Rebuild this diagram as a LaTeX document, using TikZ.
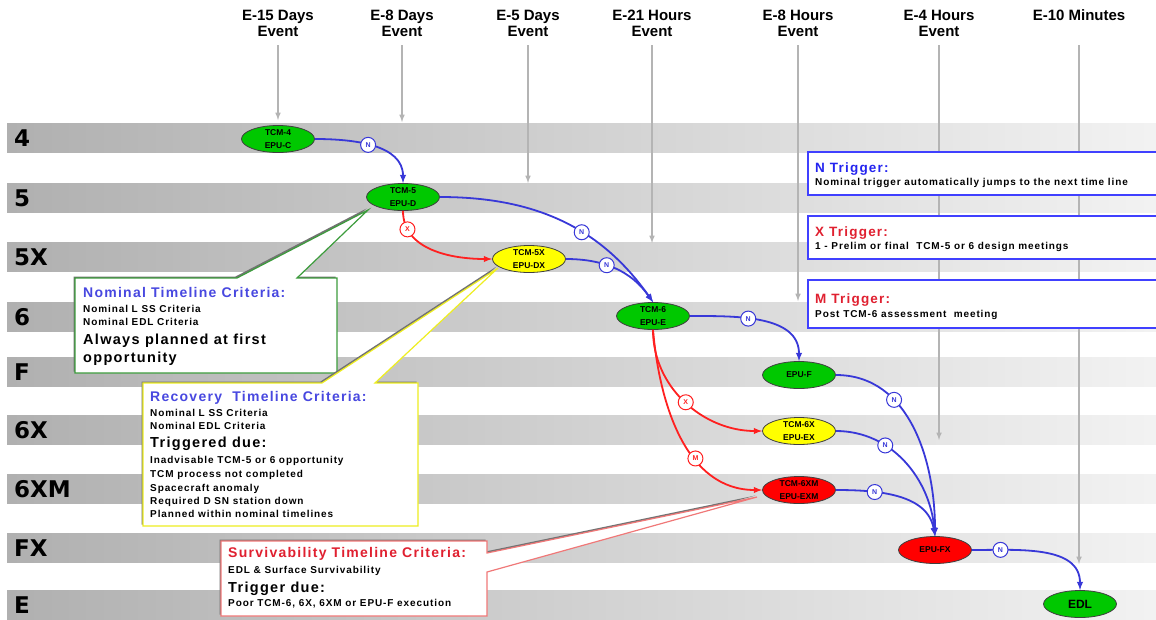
\documentclass[tikz,border=0pt]{standalone}
\usepackage{fontspec}
\setmainfont{Liberation Sans}
\newfontfamily\bandfont{DejaVu Sans}
\newfontfamily\spacedfont{Liberation Sans}[LetterSpace=9]
\usetikzlibrary{shapes.geometric,arrows}

\definecolor{tlgreen}{HTML}{00C800}
\definecolor{tlyellow}{HTML}{FFFF00}
\definecolor{tlred}{HTML}{FF0000}
\definecolor{nblue}{HTML}{3838D8}
\definecolor{xred}{HTML}{FF2020}
\definecolor{hdblue}{HTML}{4848E0}
\definecolor{lgblue}{HTML}{2424F0}
\definecolor{hdred}{HTML}{E02030}
\definecolor{evgray}{HTML}{B4B4B4}
\definecolor{boxgreen}{HTML}{3C9C3C}
\definecolor{boxyellow}{HTML}{EEEE20}
\definecolor{boxpink}{HTML}{F07878}

\newcommand{\spaced}[1]{\fontsize{#1}{#1}\spacedfont\bfseries}

\begin{document}
\begin{tikzpicture}[x=1pt,y=-1pt,
    band/.style={left color=black!31,right color=black!5},
    bandlab/.style={anchor=west,inner sep=0,font=\fontsize{23}{23}\bandfont\bfseries},
    event/.style={align=center,anchor=north,inner sep=0,font=\fontsize{15}{16}\selectfont\bfseries},
    evline/.style={evgray,line width=1.5pt,-latex},
    tl/.style={ellipse,draw=black!75,line width=.8pt,minimum width=73pt,minimum height=27pt,inner sep=0,align=center,font=\fontsize{8.5}{13}\selectfont\bfseries},
    trig/.style={circle,draw=#1,fill=white,line width=1pt,minimum size=15pt,inner sep=0,text=#1,font=\fontsize{7}{7}\selectfont\bfseries},
    nline/.style={nblue,line width=1.8pt,-latex},
    xline/.style={xred,line width=1.8pt,-latex},
    legbox/.style={draw=blue!75,line width=1.5pt,fill=white},
    legtitle/.style={anchor=base west,inner sep=0,font=\spaced{13.5}},
    ctitle/.style={anchor=base west,inner sep=0,font=\spaced{14}},
    csmall/.style={anchor=base west,inner sep=0,font=\spaced{10}},
    cbig/.style={anchor=base west,inner sep=0,font=\spaced{14.5}}]
  \useasboundingbox (0,0) rectangle (1156,619);
  \fill[white] (0,0) rectangle (1156,619);
  % time lines
  \foreach \yy/\lab [count=\i] in {123/4,183/5,242/5X,302/6,357/F,415/6X,474/6XM,533/FX,590/E}{%
    \shade[band] (7,\yy) rectangle (1156,\yy+29.5);
    \node[bandlab] (lab\i) at (14,\yy+15) {\lab};}
  % events on top
  \coordinate (evtop) at (0,45);
  \foreach \x/\yend/\txt [count=\i] in {278/120/{E-15 Days\\Event},402/122/{E-8 Days\\Event},
      528/183/{E-5 Days\\Event},652/243/{E-21 Hours\\Event},798/301/{E-8 Hours\\Event},
      939/440/{E-4 Hours\\Event},1079/564/{E-10 Minutes}}{%
    \node[event] (ev\i) at (\x,9.5) {\txt};
    \coordinate (evend\i) at (\x,\yend);
    \draw[evline] (ev\i.south |- evtop) -- (evend\i);}
  % trigger legend
  \draw[legbox] (808,152) rectangle (1170,195);
  \draw[legbox] (808,216) rectangle (1170,259);
  \draw[legbox] (808,280) rectangle (1170,328);
  \node[legtitle,text=lgblue] (ntrig) at (815,172) {N Trigger:};
  \node[csmall] (ntxt) at (815,185) {Nominal trigger automatically jumps to the next time line};
  \node[legtitle,text=hdred] (xtrig) at (815,236) {X Trigger:};
  \node[csmall] (xtxt) at (815,249) {1 - Prelim or final\ \ TCM-5 or 6 design meetings};
  \node[legtitle,text=hdred] (mtrig) at (815,303) {M Trigger:};
  \node[csmall] (mtxt) at (815,317) {Post TCM-6 assessment\ \ meeting};
  % callouts
  \fill[black!55,shift={(-1.5,-1.5)}] (75,278) -- (237,278) -- (368,210) -- (297,278) -- (337,278) -- (337,373) -- (75,373) -- cycle;
  \filldraw[fill=white,draw=boxgreen,line width=1.2pt] (75,278) -- (237,278) -- (368,210) -- (297,278) -- (337,278) -- (337,373) -- (75,373) -- cycle;
  \fill[black!55,shift={(-1.5,-1.5)}] (143,383) -- (322,383) -- (498,268) -- (375,383) -- (418,383) -- (418,526) -- (143,526) -- cycle;
  \filldraw[fill=white,draw=boxyellow,line width=1.2pt] (143,383) -- (322,383) -- (498,268) -- (375,383) -- (418,383) -- (418,526) -- (143,526) -- cycle;
  \fill[black!55,shift={(-1.5,-1.5)}] (221,541) -- (487,541) -- (487,553) -- (757,497) -- (487,572) -- (487,616) -- (221,616) -- cycle;
  \filldraw[fill=white,draw=boxpink,line width=1.2pt] (221,541) -- (487,541) -- (487,553) -- (757,497) -- (487,572) -- (487,616) -- (221,616) -- cycle;
  \node[ctitle,text=hdblue] (nomA) at (83,297) {Nominal Timeline Criteria:};
  \node[csmall] (nomB) at (83,312) {Nominal L SS Criteria};
  \node[csmall] (nomC) at (83,325) {Nominal EDL Criteria};
  \node[cbig] (nomD) at (83,344) {Always planned at first};
  \node[cbig] (nomE) at (83,362) {opportunity};
  \node[ctitle,text=hdblue] (recA) at (150,401) {Recovery\ \ Timeline Criteria:};
  \node[csmall] (recB) at (150,416) {Nominal L SS Criteria};
  \node[csmall] (recC) at (150,429) {Nominal EDL Criteria};
  \node[cbig] (recD) at (150,447) {Triggered due:};
  \node[csmall] (recE) at (150,463) {Inadvisable TCM-5 or 6 opportunity};
  \node[csmall] (recF) at (150,477) {TCM process not completed};
  \node[csmall] (recG) at (150,491) {Spacecraft anomaly};
  \node[csmall] (recH) at (150,504) {Required D SN station down};
  \node[csmall] (recI) at (150,517) {Planned within nominal timelines};
  \node[ctitle,text=hdred] (surA) at (228,557) {Survivability Timeline Criteria:};
  \node[csmall] (surB) at (228,573) {EDL \& Surface Survivability};
  \node[cbig] (surC) at (228,592) {Trigger due:};
  \node[csmall] (surD) at (228,606) {Poor TCM-6, 6X, 6XM or EPU-F execution};
  % maneuver opportunities
  \node[tl,fill=tlgreen] (tcm4) at (278,139) {TCM-4\\EPU-C};
  \node[tl,fill=tlgreen] (tcm5) at (403,197) {TCM-5\\EPU-D};
  \node[tl,fill=tlyellow] (tcm5x) at (529,259) {TCM-5X\\EPU-DX};
  \node[tl,fill=tlgreen] (tcm6) at (653,316) {TCM-6\\EPU-E};
  \node[tl,fill=tlgreen] (epuf) at (799,375) {EPU-F};
  \node[tl,fill=tlyellow] (tcm6x) at (799,431) {TCM-6X\\EPU-EX};
  \node[tl,fill=tlred] (tcm6xm) at (799,490) {TCM-6XM\\EPU-EXM};
  \node[tl,fill=tlred] (epufx) at (935,550) {EPU-FX};
  \node[tl,fill=tlgreen,font=\fontsize{12}{12}\selectfont\bfseries] (edl) at (1080,604) {EDL};
  % triggers
  \draw[nline] (tcm4.east) to[out=0,in=90] node[trig=nblue,pos=.45] (n1) {N} (tcm5.north);
  \draw[nline] (tcm5.east) to[out=0,in=125] node[trig=nblue,pos=.6] (n2) {N} (tcm6.north);
  \draw[nline] (tcm5x.east) to[out=0,in=125] node[trig=nblue,pos=.4] (n3) {N} (tcm6.north);
  \draw[xline] (tcm5.south) to[out=-90,in=180] node[trig=xred,pos=.18] (x1) {X} (tcm5x.west);
  \draw[nline] (tcm6.east) to[out=0,in=90] node[trig=nblue,pos=.4] (n4) {N} (epuf.north);
  \draw[xline] (tcm6.south) to[out=-90,in=180] node[trig=xred,pos=.5] (x2) {X} (tcm6x.west);
  \draw[xline] (tcm6.south) to[out=-85,in=180] node[trig=xred,pos=.62] (m1) {M} (tcm6xm.west);
  \draw[nline] (epuf.east) to[out=0,in=90] node[trig=nblue,pos=.33] (n5) {N} (epufx.north);
  \draw[nline] (tcm6x.east) to[out=0,in=95] node[trig=nblue,pos=.33] (n6) {N} (epufx.north);
  \draw[nline] (tcm6xm.east) to[out=0,in=100] node[trig=nblue,pos=.3] (n7) {N} (epufx.north);
  \draw[nline] (epufx.east) to[out=0,in=90] node[trig=nblue,pos=.2] (n8) {N} (edl.north);
\end{tikzpicture}
\end{document}
